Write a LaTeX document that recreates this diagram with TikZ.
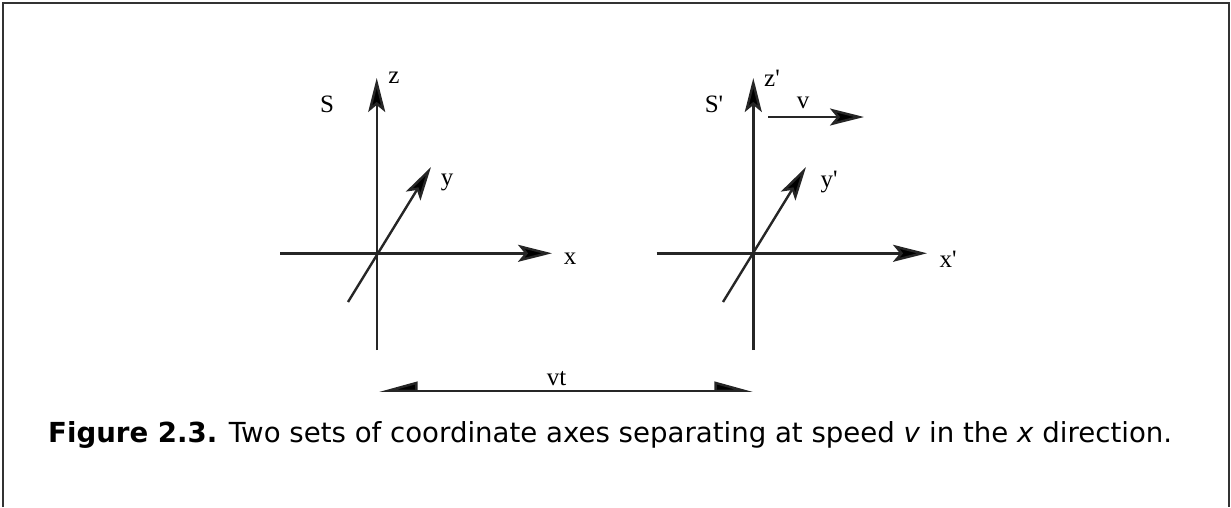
\documentclass[tikz,border=0pt]{standalone}
\usepackage{fontspec}
\setmainfont{DejaVu Sans}
\newfontfamily\lblfont{Liberation Serif}
\usetikzlibrary{arrows.meta}
\tikzset{
  axis/.style={line width=2.4pt, draw=black!85, -{Stealth[length=34pt, width=17pt, inset=7pt, fill=black]}},
  lbl/.style={font=\lblfont\fontsize{25}{29}\selectfont, inner sep=0pt},
  captext/.style={font=\fontsize{27.6}{32}\selectfont, inner sep=0pt, anchor=base west},
  frameline/.style={line width=1.5pt, draw=black!80},
  sep/.style={line width=2.4pt, draw=black!85, {Stealth[harpoon,swap,length=34pt,width=18pt,inset=0pt,fill=black]}-{Stealth[harpoon,length=34pt,width=18pt,inset=0pt,fill=black]}}
}
\begin{document}
\begin{tikzpicture}[x=1pt,y=-1pt]
\useasboundingbox (0,0) rectangle (1231,507);
\draw[frameline] (3,507) -- (3,3) -- (1229,3) -- (1229,507);
% frame S
\coordinate (O1) at (376.7,253.3);
\coordinate (z1b) at (376.7,350);
\coordinate (z1t) at (376.7,78);
\coordinate (x1l) at (280,253.3);
\coordinate (x1r) at (552,253.3);
\coordinate (y1b) at (348,302);
\coordinate (y1t) at (431,167);
\draw[axis] (z1b) -- (z1t);
\draw[axis] (x1l) -- (x1r);
\draw[axis] (y1b) -- (y1t);
\node[lbl] (lz1) at (394,78) {z};
\node[lbl] (lS1) at (327,104) {S};
\node[lbl] (ly1) at (447,182) {y};
\node[lbl] (lx1) at (570,259) {x};
% frame S'
\coordinate (O2) at (753.3,253.3);
\coordinate (z2b) at (753.3,350);
\coordinate (z2t) at (753.3,78);
\coordinate (x2l) at (656.7,253.3);
\coordinate (x2r) at (927,253.3);
\coordinate (y2b) at (723,302);
\coordinate (y2t) at (806,167);
\draw[axis] (z2b) -- (z2t);
\draw[axis] (x2l) -- (x2r);
\draw[axis] (y2b) -- (y2t);
\node[lbl] (lz2) at (772,78) {z'};
\node[lbl] (lS2) at (714,104) {S'};
\node[lbl] (ly2) at (829,182) {y'};
\node[lbl] (lx2) at (948,259) {x'};
% velocity
\coordinate (v0) at (768,117);
\coordinate (v1) at (864,117);
\draw[axis] (v0) -- (v1);
\node[lbl] (lv) at (803,103) {v};
% separation
\coordinate (s0) at (379,390.7);
\coordinate (s1) at (753,390.7);
\draw[sep] (s0) -- (s1);
\node[lbl] (lvt) at (556.7,379) {vt};
% caption
\node[captext] (caption) at (48,442) {\textbf{Figure 2.3.} Two sets of coordinate axes separating at speed \textit{v} in the \textit{x} direction.};
\end{tikzpicture}
\end{document}
